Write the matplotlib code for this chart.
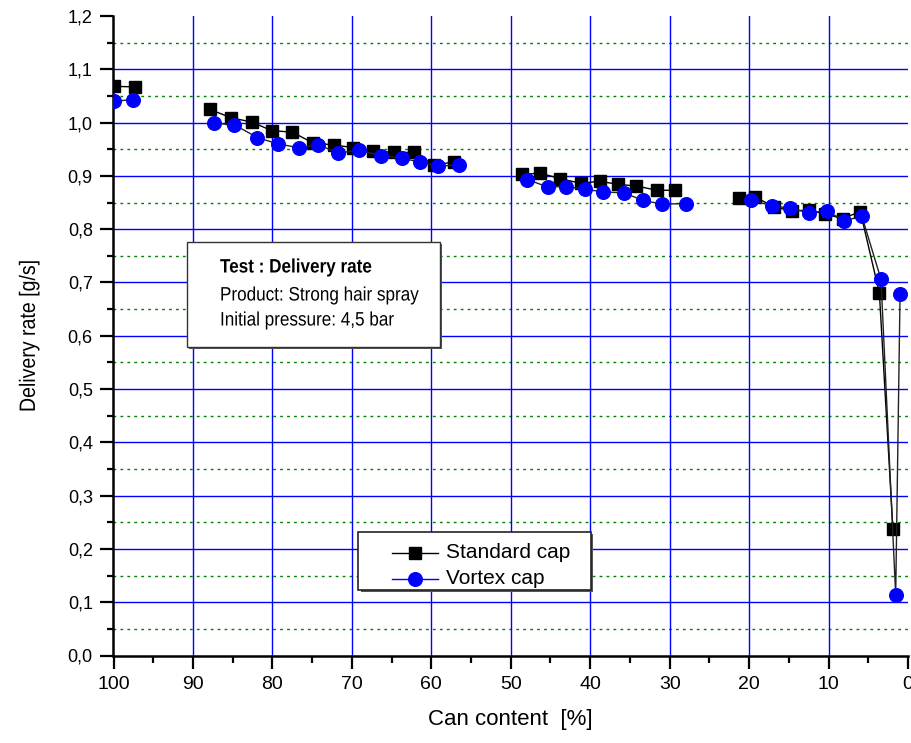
import numpy as np
import matplotlib
matplotlib.use("Agg")
import matplotlib.pyplot as plt
from matplotlib.lines import Line2D
from matplotlib.patches import Rectangle
from matplotlib.ticker import MultipleLocator, FixedLocator, FixedFormatter
from matplotlib.patheffects import AbstractPathEffect
from matplotlib.transforms import Affine2D

nan = np.nan

# Standard cap (NaN separates measurement blocks)
std_x = [100, 97.3, nan,
         87.9, 85.2, 82.6, 80.1, 77.5, 74.9, 72.3, 69.8, 67.3, 64.7, 62.2, 59.7, 57.2, nan,
         48.6, 46.3, 43.8, 41.2, 38.8, 36.5, 34.2, 31.6, 29.3, nan,
         21.3, 19.2, 16.9, 14.6, 12.5, 10.4, 8.2, 6.0, 3.6, 1.9]
std_y = [1.068, 1.067, nan,
         1.025, 1.009, 1.001, 0.985, 0.982, 0.962, 0.958, 0.953, 0.947, 0.944, 0.944, 0.920, 0.926, nan,
         0.903, 0.905, 0.895, 0.886, 0.890, 0.884, 0.881, 0.873, 0.873, nan,
         0.858, 0.860, 0.842, 0.834, 0.836, 0.828, 0.820, 0.833, 0.680, 0.238]

# Vortex cap
vor_x = [100, 97.6, nan,
         87.4, 84.8, 81.9, 79.3, 76.7, 74.2, 71.7, 69.1, 66.3, 63.7, 61.4, 59.1, 56.5, nan,
         47.9, 45.3, 43.0, 40.7, 38.4, 35.8, 33.3, 31.0, 28.0, nan,
         19.7, 17.1, 14.8, 12.5, 10.2, 8.0, 5.8, 3.4, 1.55, 1.0]
vor_y = [1.040, 1.043, nan,
         0.999, 0.996, 0.972, 0.960, 0.953, 0.958, 0.943, 0.948, 0.938, 0.933, 0.926, 0.918, 0.921, nan,
         0.893, 0.879, 0.880, 0.875, 0.870, 0.868, 0.854, 0.847, 0.848, nan,
         0.854, 0.844, 0.839, 0.831, 0.834, 0.816, 0.824, 0.706, 0.114, 0.678]

series_names = ["Standard cap", "Vortex cap"]
ytick_vals = [0.0, 0.1, 0.2, 0.3, 0.4, 0.5, 0.6, 0.7, 0.8, 0.9, 1.0, 1.1, 1.2]
ytick_labels = ["0,0", "0,1", "0,2", "0,3", "0,4", "0,5", "0,6", "0,7", "0,8", "0,9", "1,0", "1,1", "1,2"]
xtick_vals = [100, 90, 80, 70, 60, 50, 40, 30, 20, 10, 0]
xtick_labels = ["100", "90", "80", "70", "60", "50", "40", "30", "20", "10", "0"]
info_lines = ["Test : Delivery rate", "Product: Strong hair spray", "Initial pressure: 4,5 bar"]

plt.rcParams['font.family'] = ['Liberation Sans', 'DejaVu Sans']


class Condense(AbstractPathEffect):
    """Draw text narrower (like Arial Narrow) by scaling glyph path along the baseline."""
    def __init__(self, factor=0.85, center=False):
        super().__init__()
        self.factor = factor
        self.center = center

    def draw_path(self, renderer, gc, tpath, affine, rgbFace=None):
        cx = 0.0
        if self.center:
            ext = tpath.get_extents()
            cx = (ext.x0 + ext.x1) / 2.0
        t = Affine2D().translate(-cx, 0).scale(self.factor, 1.0).translate(cx, 0) + affine
        renderer.draw_path(gc, tpath, t, rgbFace)


W, H = 912, 743
def fx(x):
    return x / W
def fy(y):
    return 1 - y / H

fig = plt.figure(figsize=(W / 100, H / 100), dpi=100)
ax_l, ax_r, ax_t, ax_b = 113.5, 908, 16, 655.5
ax = fig.add_axes([fx(ax_l), fy(ax_b), (ax_r - ax_l) / W, (ax_b - ax_t) / H])

ax.set_xlim(100, 0)
ax.set_ylim(0, 1.2)

# grid
for v in ytick_vals[1:-1]:
    ax.axhline(v, color='#0000ff', lw=1.0, zorder=0)
for v in np.arange(0.05, 1.2, 0.1):
    ax.axhline(v, color='#008000', lw=1.0, ls=(0, (2, 3)), zorder=0)
for v in xtick_vals[1:-1]:
    ax.axvline(v, color='#0000ff', lw=1.0, zorder=0)

ax.plot(std_x, std_y, color='black', lw=1.0, marker='s', ms=8.8,
        mfc='black', mec='black', zorder=3)
ax.plot(vor_x, vor_y, color='#222222', lw=1.0, marker='o', ms=9.8,
        mfc='#0000ff', mec='#0000ff', zorder=4)

ax.xaxis.set_major_locator(FixedLocator(xtick_vals))
ax.xaxis.set_major_formatter(FixedFormatter(xtick_labels))
ax.xaxis.set_minor_locator(MultipleLocator(5))
ax.yaxis.set_major_locator(FixedLocator(ytick_vals))
ax.yaxis.set_major_formatter(FixedFormatter(ytick_labels))
ax.yaxis.set_minor_locator(MultipleLocator(0.05))

for s in ['top', 'right']:
    ax.spines[s].set_visible(False)
for s in ['left', 'bottom']:
    ax.spines[s].set_linewidth(1.8)

ax.tick_params(axis='x', which='major', direction='out', length=9, width=1.6, labelsize=14, pad=6)
ax.tick_params(axis='x', which='minor', direction='out', length=5, width=1.6)
ax.tick_params(axis='y', which='major', direction='out', length=9.4, width=1.6, labelsize=13, pad=5.5)
ax.tick_params(axis='y', which='minor', direction='out', length=4.3, width=1.6)

ax.set_xlabel("Can content  [%]", fontsize=16, labelpad=11)
ylab = ax.set_ylabel("Delivery rate [g/s]", fontsize=16, labelpad=20)
ylab.set_path_effects([Condense(0.88, center=True)])

# info box
bx0, by0, bx1, by1 = 186.5, 242, 440, 347
fig.patches.append(Rectangle((fx(bx0) + 2 / W, fy(by1) - 2 / H), (bx1 - bx0) / W, (by1 - by0) / H,
                             transform=fig.transFigure, facecolor='#555555', edgecolor='none', zorder=5))
fig.patches.append(Rectangle((fx(bx0), fy(by1)), (bx1 - bx0) / W, (by1 - by0) / H,
                             transform=fig.transFigure, facecolor='white', edgecolor='#333333',
                             lw=1.0, zorder=6))
line_y = [268, 296, 321]
for i, (txt, yy) in enumerate(zip(info_lines, line_y)):
    t = fig.text(fx(220), fy(yy), txt, fontsize=14, fontweight='bold' if i == 0 else 'normal',
                 va='center', ha='left', zorder=7)
    t.set_path_effects([Condense(0.88)])

# legend (drawn as box + sample lines + labels)
lx0, ly0, lx1, ly1 = 358.5, 531.5, 591, 590
fig.patches.append(Rectangle((fx(lx0) + 2 / W, fy(ly1) - 2 / H), (lx1 - lx0) / W, (ly1 - ly0) / H,
                             transform=fig.transFigure, facecolor='#555555', edgecolor='none', zorder=8))
fig.patches.append(Rectangle((fx(lx0), fy(ly1)), (lx1 - lx0) / W, (ly1 - ly0) / H,
                             transform=fig.transFigure, facecolor='white', edgecolor='#222222',
                             lw=1.2, zorder=9))
styles = [dict(color='black', marker='s', ms=8.8, mfc='black', mec='black'),
          dict(color='#0000ff', marker='o', ms=9.8, mfc='#0000ff', mec='#0000ff')]
for name, st, yy in zip(series_names, styles, [553, 579]):
    fig.add_artist(Line2D([fx(392), fx(438)], [fy(yy), fy(yy)], lw=1.0, color=st['color'],
                          transform=fig.transFigure, zorder=10))
    fig.add_artist(Line2D([fx(415)], [fy(yy)], lw=0, marker=st['marker'], ms=st['ms'],
                          mfc=st['mfc'], mec=st['mec'], transform=fig.transFigure, zorder=11))
    fig.text(fx(446), fy(yy), name, fontsize=15, va='center', ha='left', zorder=12)

fig.savefig("out.png", dpi=100)
